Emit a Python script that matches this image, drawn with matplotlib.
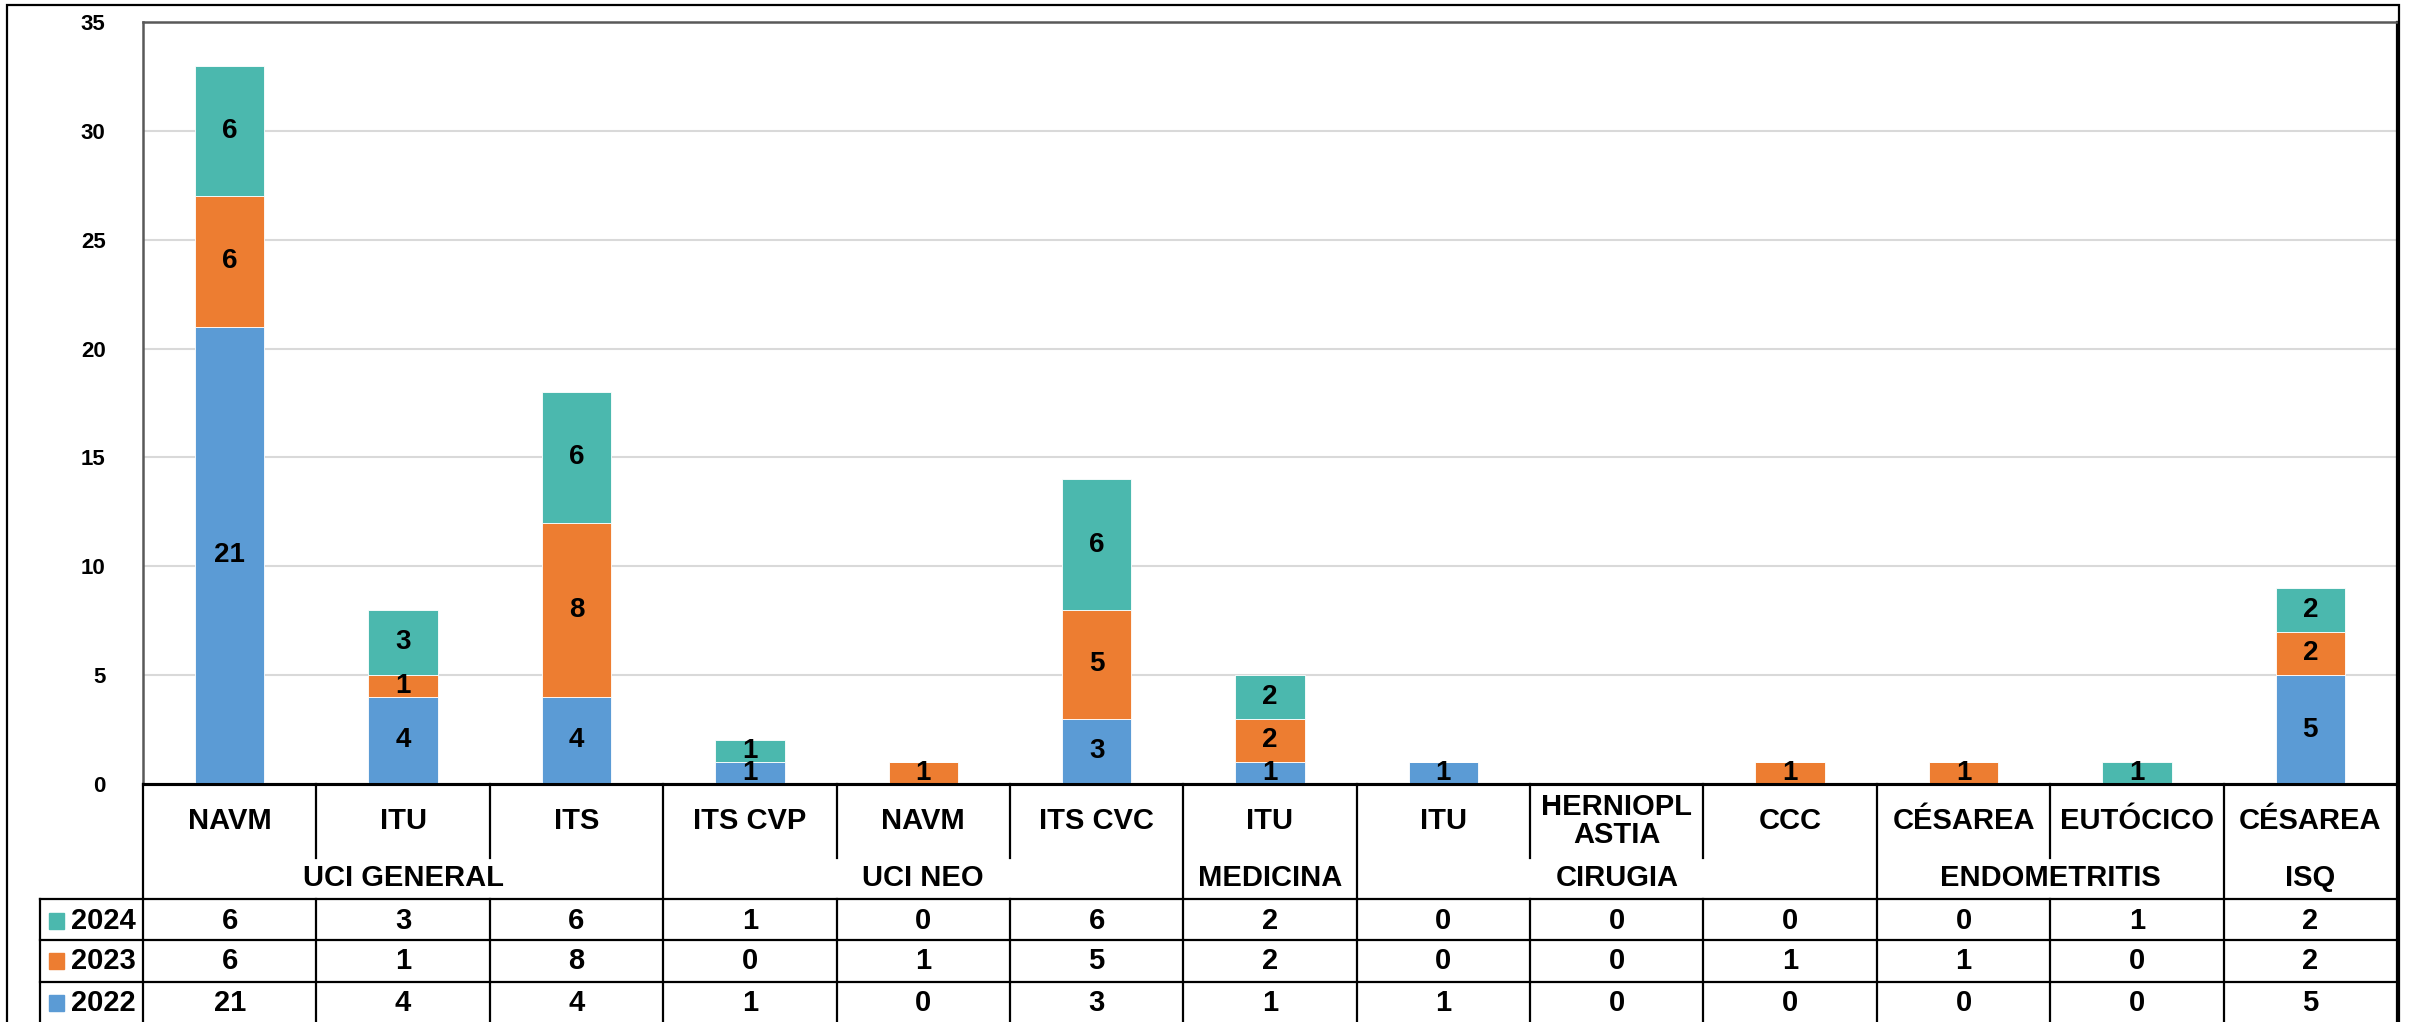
import matplotlib
matplotlib.use("Agg")
import matplotlib.pyplot as plt
from matplotlib.patches import Rectangle
import numpy as np

# data
categories = ["NAVM", "ITU", "ITS", "ITS CVP", "NAVM", "ITS CVC", "ITU", "ITU",
              "HERNIOPL\nASTIA", "CCC", "CÉSAREA", "EUTÓCICO", "CÉSAREA"]
group_names = ["UCI GENERAL", "UCI NEO", "MEDICINA", "CIRUGIA", "ENDOMETRITIS", "ISQ"]
group_spans = [(0, 2), (3, 5), (6, 6), (7, 9), (10, 11), (12, 12)]
years = ["2022", "2023", "2024"]
v2022 = [21, 4, 4, 1, 0, 3, 1, 1, 0, 0, 0, 0, 5]
v2023 = [6, 1, 8, 0, 1, 5, 2, 0, 0, 1, 1, 0, 2]
v2024 = [6, 3, 6, 1, 0, 6, 2, 0, 0, 0, 0, 1, 2]
series = [v2022, v2023, v2024]
colors = ["#5B9BD5", "#ED7D31", "#4BB8AE"]

W, H = 2412, 1022
fig = plt.figure(figsize=(W / 100, H / 100), dpi=100)
num_font = ["Liberation Sans", "DejaVu Sans"]

# outer chart frame
fig.patches.append(Rectangle((7 / W, -0.05), (2399 - 7) / W, 1.05 - 5 / H,
                             transform=fig.transFigure, fill=False,
                             edgecolor="black", linewidth=1.6))

left, right, top, zero = 143, 2397, 22, 784
ax = fig.add_axes([left / W, 1 - zero / H, (right - left) / W, (zero - top) / H])

x = np.arange(len(categories))
bottom = np.zeros(len(categories))
for vals, col in zip(series, colors):
    vals = np.array(vals)
    ax.bar(x, vals, 0.4, bottom=bottom, color=col, edgecolor="white", linewidth=0.6, zorder=3)
    for xi, b, v in zip(x, bottom, vals):
        if v > 0:
            ax.text(xi, b + v / 2, str(v), ha="center", va="center",
                    fontsize=20, fontweight="bold", family=num_font, zorder=4)
    bottom += vals

ax.set_xlim(-0.5, len(categories) - 0.5)
ax.set_ylim(0, 35)
ax.set_yticks(range(0, 36, 5))
ax.set_xticks([])
ax.grid(axis="y", color="#D9D9D9", linewidth=1.5, zorder=0)
ax.tick_params(axis="y", length=0, pad=27)
for lab in ax.get_yticklabels():
    lab.set_fontfamily(num_font)
    lab.set_fontweight("bold")
    lab.set_fontsize(16)
for s in ["left", "top"]:
    ax.spines[s].set_color("#595959")
    ax.spines[s].set_linewidth(1.8)
ax.spines["right"].set_color("black")
ax.spines["right"].set_linewidth(1.6)
ax.spines["bottom"].set_color("black")
ax.spines["bottom"].set_linewidth(2.2)

# data table below the bars
col_w = (right - left) / len(categories)
leg_left = 40
xl = -0.5 - (left - leg_left) / col_w
xr = len(categories) - 0.5
tab = fig.add_axes([leg_left / W, 0, (right - leg_left) / W, (H - zero) / H])
tab.set_xlim(xl, xr)
tab.set_ylim(H - zero, 0)
tab.axis("off")

split, head, r1, r2 = 74, 115, 156, 198
lw = 1.6
tfont = dict(family=["Liberation Sans", "DejaVu Sans"], fontweight="bold", fontsize=21)

tab.plot([-0.5, xr], [0, 0], color="black", lw=2.2, clip_on=False)
for yy in [head, r1, r2]:
    tab.plot([xl, xr], [yy, yy], color="black", lw=lw, clip_on=False)
tab.plot([-0.5, -0.5], [0, H - zero], color="black", lw=lw, clip_on=False)
tab.plot([xl, xl], [head, H - zero], color="black", lw=lw, clip_on=False)
tab.plot([xr, xr], [0, H - zero], color="black", lw=lw, clip_on=False)

group_ends = [e for s, e in group_spans[:-1]]
for k in range(1, len(categories)):
    xb = k - 0.5
    if k - 1 in group_ends:
        tab.plot([xb, xb], [0, H - zero], color="black", lw=lw, clip_on=False)
    else:
        tab.plot([xb, xb], [0, split], color="black", lw=lw, clip_on=False)
        tab.plot([xb, xb], [head, H - zero], color="black", lw=lw, clip_on=False)

for i, c in enumerate(categories):
    tab.text(i, 37, c, ha="center", va="center", linespacing=1.0, **tfont)
for g, (s, e) in zip(group_names, group_spans):
    tab.text((s + e) / 2, 94, g, ha="center", va="center", **tfont)

row_y = {"2024": 137, "2023": 177, "2022": 219}
for yr, vals, col in zip(years, series, colors):
    yc = row_y[yr]
    tab.add_patch(Rectangle((xl + 9 / col_w, yc - 8), 15 / col_w, 16, color=col, clip_on=False))
    tab.text(xl + 31 / col_w, yc, yr, ha="left", va="center", **tfont)
    for i, v in enumerate(vals):
        tab.text(i, yc, str(v), ha="center", va="center", **tfont)

fig.savefig("out.png", dpi=100)
